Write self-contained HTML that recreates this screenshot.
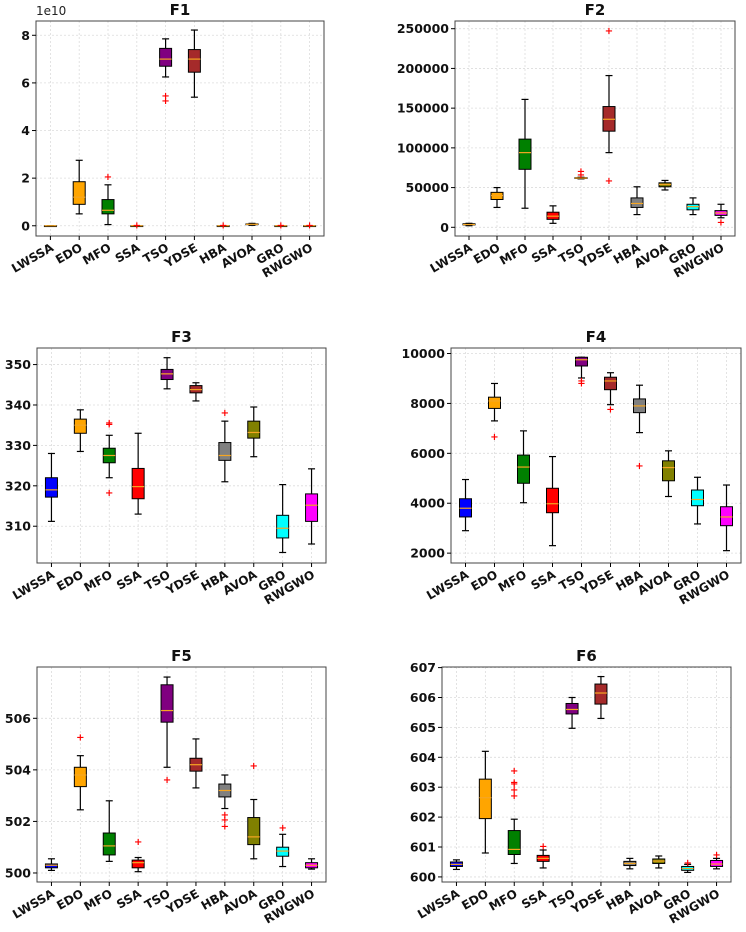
<!DOCTYPE html>
<html><head><meta charset="utf-8"><style>
html,body{margin:0;padding:0;background:#fff}
svg{display:block;font-family:"DejaVu Sans","Liberation Sans",sans-serif}
</style></head><body>
<svg id="chart" width="746" height="932" viewBox="0 0 746 932" xmlns="http://www.w3.org/2000/svg"></svg>
<script>
const categories = ["LWSSA","EDO","MFO","SSA","TSO","YDSE","HBA","AVOA","GRO","RWGWO"];
const boxColors = ["#0000ff","#ffa500","#008000","#ff0000","#800080","#a52a2a","#808080","#808000","#00ffff","#ff00ff"];

const f1Low = [0,0.5,0.05,0,6.25,5.4,0,0.02,0,0];
const f1Q1 = [0,0.9,0.5,0,6.7,6.45,0,0.05,0,0];
const f1Med = [0,1.2,0.65,0,7.0,7.0,0,0.06,0,0];
const f1Q3 = [0,1.85,1.1,0,7.45,7.4,0,0.08,0,0];
const f1High = [0,2.75,1.72,0,7.85,8.22,0,0.1,0,0];
const f1Out = [[],[],[2.05],[0.01],[5.25,5.45],[],[0.01],[],[0.01],[0.01]];
const f1Ticks = [0,2,4,6,8];

const f2Low = [2000,25000,24000,5000,61000,94000,16000,47000,16000,12000];
const f2Q1 = [3000,35000,73000,10000,61500,121000,25000,51000,22000,15000];
const f2Med = [3500,40000,94000,14000,62000,136000,30000,54000,26000,18000];
const f2Q3 = [4500,44000,111000,19000,62500,152000,37000,56000,29000,21000];
const f2High = [5000,50000,161000,27000,63000,191000,51000,59000,37000,29000];
const f2Out = [[],[],[],[],[66000,70000],[58000,247000],[],[],[],[6000]];
const f2Ticks = [0,50000,100000,150000,200000,250000];

const f3Low = [311.2,328.5,322,313,344,341,321,327.2,303.5,305.6];
const f3Q1 = [317.2,333,325.7,316.8,346.3,343,326.3,331.8,307.1,311.2];
const f3Med = [319,335,327.5,319.8,347.7,343.8,327.5,333.2,309.5,315.2];
const f3Q3 = [322,336.5,329.3,324.3,348.8,344.8,330.7,336,312.7,318];
const f3High = [328,338.8,332.5,333,351.7,345.5,336,339.5,320.3,324.2];
const f3Out = [[],[],[318.2,335.2,335.5],[],[],[],[338],[],[],[]];
const f3Ticks = [310,320,330,340,350];

const f4Low = [2900,7300,4020,2300,9020,7950,6830,4270,3170,2100];
const f4Q1 = [3450,7800,4800,3620,9500,8550,7630,4900,3900,3100];
const f4Med = [3800,8100,5450,3980,9750,8900,7900,5430,4150,3450];
const f4Q3 = [4180,8250,5930,4600,9850,9050,8180,5700,4530,3860];
const f4High = [4950,8800,6900,5870,9850,9230,8730,6100,5040,4730];
const f4Out = [[],[6650],[],[],[8800,8900],[7750],[5500],[],[],[]];
const f4Ticks = [2000,4000,6000,8000,10000];

const f5Low = [500.1,502.45,500.45,500.05,504.1,503.3,502.5,500.55,500.25,500.15];
const f5Q1 = [500.2,503.35,500.7,500.2,505.85,503.95,502.95,501.1,500.65,500.2];
const f5Med = [500.3,503.8,501.05,500.4,506.3,504.2,503.2,501.4,500.85,500.3];
const f5Q3 = [500.35,504.1,501.55,500.5,507.3,504.45,503.45,502.15,501.0,500.4];
const f5High = [500.55,504.55,502.8,500.6,507.6,505.2,503.8,502.85,501.5,500.55];
const f5Out = [[],[505.25],[],[501.2],[503.6],[],[501.8,502.05,502.25],[504.15],[501.75],[]];
const f5Ticks = [500,502,504,506];

const f6Low = [600.25,600.8,600.45,600.3,604.97,605.3,600.27,600.3,600.15,600.27];
const f6Q1 = [600.35,601.95,600.75,600.52,605.45,605.78,600.38,600.45,600.22,600.35];
const f6Med = [600.42,602.65,600.92,600.62,605.6,606.15,600.45,600.53,600.28,600.43];
const f6Q3 = [600.5,603.27,601.55,600.72,605.8,606.45,600.52,600.6,600.35,600.55];
const f6High = [600.57,604.2,601.93,600.9,606.0,606.7,600.62,600.7,600.42,600.62];
const f6Out = [[],[],[602.7,602.9,603.1,603.15,603.55],[601.02],[],[],[],[],[600.47],[600.73]];
const f6Ticks = [600,601,602,603,604,605,606,607];

const NS = "http://www.w3.org/2000/svg";
const svg = document.getElementById("chart");
function mk(tag, attrs, parent){
  const e = document.createElementNS(NS, tag);
  for (const k in attrs) e.setAttribute(k, attrs[k]);
  (parent||svg).appendChild(e);
  return e;
}

const panels = [
  {id:"f1",title:"F1",x0:36,x1:324,y0:21,y1:236,dmin:-0.43,dmax:8.6,low:f1Low,q1:f1Q1,med:f1Med,q3:f1Q3,high:f1High,out:f1Out,ticks:f1Ticks,exp:"1e10"},
  {id:"f2",title:"F2",x0:455,x1:735,y0:21,y1:236,dmin:-10950,dmax:259700,low:f2Low,q1:f2Q1,med:f2Med,q3:f2Q3,high:f2High,out:f2Out,ticks:f2Ticks},
  {id:"f3",title:"F3",x0:37,x1:326,y0:348,y1:563,dmin:300.9,dmax:354.1,low:f3Low,q1:f3Q1,med:f3Med,q3:f3Q3,high:f3High,out:f3Out,ticks:f3Ticks},
  {id:"f4",title:"F4",x0:451,x1:741,y0:348,y1:563,dmin:1605,dmax:10221,low:f4Low,q1:f4Q1,med:f4Med,q3:f4Q3,high:f4High,out:f4Out,ticks:f4Ticks},
  {id:"f5",title:"F5",x0:37,x1:326,y0:667,y1:882,dmin:499.65,dmax:507.99,low:f5Low,q1:f5Q1,med:f5Med,q3:f5Q3,high:f5High,out:f5Out,ticks:f5Ticks},
  {id:"f6",title:"F6",x0:442,x1:731,y0:667,y1:882,dmin:599.83,dmax:607.02,low:f6Low,q1:f6Q1,med:f6Med,q3:f6Q3,high:f6High,out:f6Out,ticks:f6Ticks}
];

panels.forEach(p => {
  const g = mk("g", {});
  
  
  const n = categories.length;
  const pad = (p.x1 - p.x0) * 0.05;
  const step = (p.x1 - p.x0 - 2*pad) / (n - 1);
  const xs = i => p.x0 + pad + i*step;
  const ys = v => p.y1 - (v - p.dmin) / (p.dmax - p.dmin) * (p.y1 - p.y0);

  p.ticks.forEach(t => {
    const gl = mk("line", {x1:p.x0,x2:p.x1,y1:ys(t),y2:ys(t),stroke:"#dcdcdc","stroke-width":0.8,"stroke-dasharray":"2,2"}, g);
    
    
  });
  categories.forEach((c,i) => {
    const gl = mk("line", {x1:xs(i),x2:xs(i),y1:p.y0,y2:p.y1,stroke:"#dcdcdc","stroke-width":0.8,"stroke-dasharray":"2,2"}, g);
    
    
  });

  const bw = 12, cw = 7;
  categories.forEach((c,i) => {
    const bg = mk("g", {}, g);
    
    
    const x = xs(i);
    mk("line", {x1:x,x2:x,y1:ys(p.low[i]),y2:ys(p.q1[i]),stroke:"#000","stroke-width":1.2}, bg);
    mk("line", {x1:x,x2:x,y1:ys(p.q3[i]),y2:ys(p.high[i]),stroke:"#000","stroke-width":1.2}, bg);
    mk("line", {x1:x-cw/2,x2:x+cw/2,y1:ys(p.low[i]),y2:ys(p.low[i]),stroke:"#000","stroke-width":1.2}, bg);
    mk("line", {x1:x-cw/2,x2:x+cw/2,y1:ys(p.high[i]),y2:ys(p.high[i]),stroke:"#000","stroke-width":1.2}, bg);
    const top = ys(p.q3[i]), bot = ys(p.q1[i]);
    mk("rect", {x:x-bw/2,y:top,width:bw,height:Math.max(bot-top,0.8),fill:boxColors[i],stroke:"#000","stroke-width":1}, bg);
    mk("line", {x1:x-bw/2,x2:x+bw/2,y1:ys(p.med[i]),y2:ys(p.med[i]),stroke:"#f5a623","stroke-width":1.2}, bg);
    p.out[i].forEach(v => {
      const o = mk("text", {x:x,y:ys(v)+3,"text-anchor":"middle","font-size":10,"font-weight":"bold",fill:"#ff0000"}, bg);
      o.textContent = "+";
      
      
    });
  });

  const fr = mk("rect", {x:p.x0,y:p.y0,width:p.x1-p.x0,height:p.y1-p.y0,fill:"none",stroke:"#444","stroke-width":1}, g);
  
  

  p.ticks.forEach(t => {
    mk("line", {x1:p.x0-4,x2:p.x0,y1:ys(t),y2:ys(t),stroke:"#000","stroke-width":1}, g);
    const tl = mk("text", {x:p.x0-6,y:ys(t)+4.5,"text-anchor":"end","font-size":12.5,"font-weight":"bold",fill:"#111"}, g);
    tl.textContent = String(t);
    
    
  });
  categories.forEach((c,i) => {
    const x = xs(i);
    mk("line", {x1:x,x2:x,y1:p.y1,y2:p.y1+4,stroke:"#000","stroke-width":1}, g);
    const tl = mk("text", {x:x+4,y:p.y1+14,"text-anchor":"end","font-size":12,"font-weight":"bold",fill:"#111",transform:`rotate(-30 ${x+4} ${p.y1+14})`}, g);
    tl.textContent = c;
    
    
  });
  const ti = mk("text", {x:(p.x0+p.x1)/2,y:p.y0-6,"text-anchor":"middle","font-size":15,"font-weight":"bold",fill:"#111"}, g);
  ti.textContent = p.title;
  
  
  if (p.exp) {
    const ex = mk("text", {x:p.x0,y:p.y0-6,"font-size":12,fill:"#222"}, g);
    ex.textContent = p.exp;
    
    
  }
});
</script>
</body></html>
